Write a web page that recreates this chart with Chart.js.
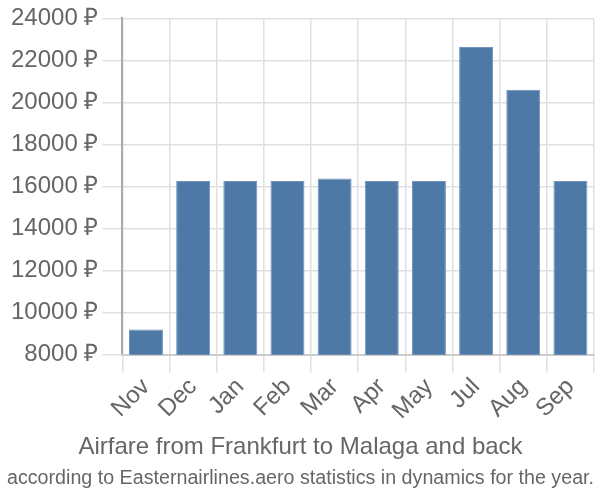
<!DOCTYPE html>
<html>
<head>
<meta charset="utf-8">
<script src="https://cdn.jsdelivr.net/npm/chart.js@4"></script>
<style>
  html, body { margin: 0; padding: 0; background: #fff; }
  #wrap { width: 600px; height: 500px; }
</style>
</head>
<body>
<div id="wrap"><canvas id="chart"></canvas></div>
<script>
// months and prices (rub)
const months = ['Nov', 'Dec', 'Jan', 'Feb', 'Mar', 'Apr', 'May', 'Jul', 'Aug', 'Sep'];
const prices = [9200, 16270, 16270, 16270, 16380, 16270, 16270, 22640, 20610, 16270];
const yTicks = [8000, 10000, 12000, 14000, 16000, 18000, 20000, 22000, 24000];

const titleText = 'Airfare from Frankfurt to Malaga and back';
const subtitleText = 'according to Easternairlines.aero statistics in dynamics for the year.';

Chart.defaults.font.family = '"Liberation Sans", Arial, sans-serif';
Chart.defaults.color = '#666';

new Chart(document.getElementById('chart'), {
    type: 'bar',
    data: {
        labels: months,
        datasets: [{
            data: prices,
            backgroundColor: '#4e79a7',
            borderColor: '#6f93bd',
            borderWidth: 1,
            barPercentage: 0.72,
            categoryPercentage: 1
        }]
    },
    options: {
        responsive: true,
        maintainAspectRatio: false,
        animation: false,
        layout: { padding: { left: 7, right: 6, top: 1, bottom: 0 } },
        plugins: {
            legend: { display: false },
            tooltip: { enabled: false },
            title: {
                display: true,
                text: titleText,
                position: 'bottom',
                weight: 1000, // keep title above subtitle at the bottom
                font: { size: 24, weight: 'normal' },
                color: '#666',
                padding: { top: 8, bottom: 2 }
            },
            subtitle: {
                display: true,
                text: subtitleText,
                position: 'bottom',
                font: { size: 20 },
                color: '#666',
                padding: { top: 2, bottom: 10 }
            }
        },
        scales: {
            y: {
                min: 8000,
                max: 24000,
                afterBuildTicks: axis => { axis.ticks = yTicks.map(v => ({ value: v })); },
                ticks: {
                    font: { size: 24 },
                    color: '#666',
                    padding: 4,
                    callback: v => v + ' ₽'
                },
                grid: { color: '#e0e0e0', lineWidth: 1.5, tickLength: 20 },
                border: { color: '#aaa', width: 2 }
            },
            x: {
                ticks: {
                    font: { size: 24 },
                    color: '#666',
                    maxRotation: 45,
                    minRotation: 45,
                    padding: 0
                },
                grid: { color: '#e0e0e0', lineWidth: 1.5, tickLength: 18 },
                border: { color: '#ccc', width: 2 }
            }
        }
    }
});
</script>
</body>
</html>
